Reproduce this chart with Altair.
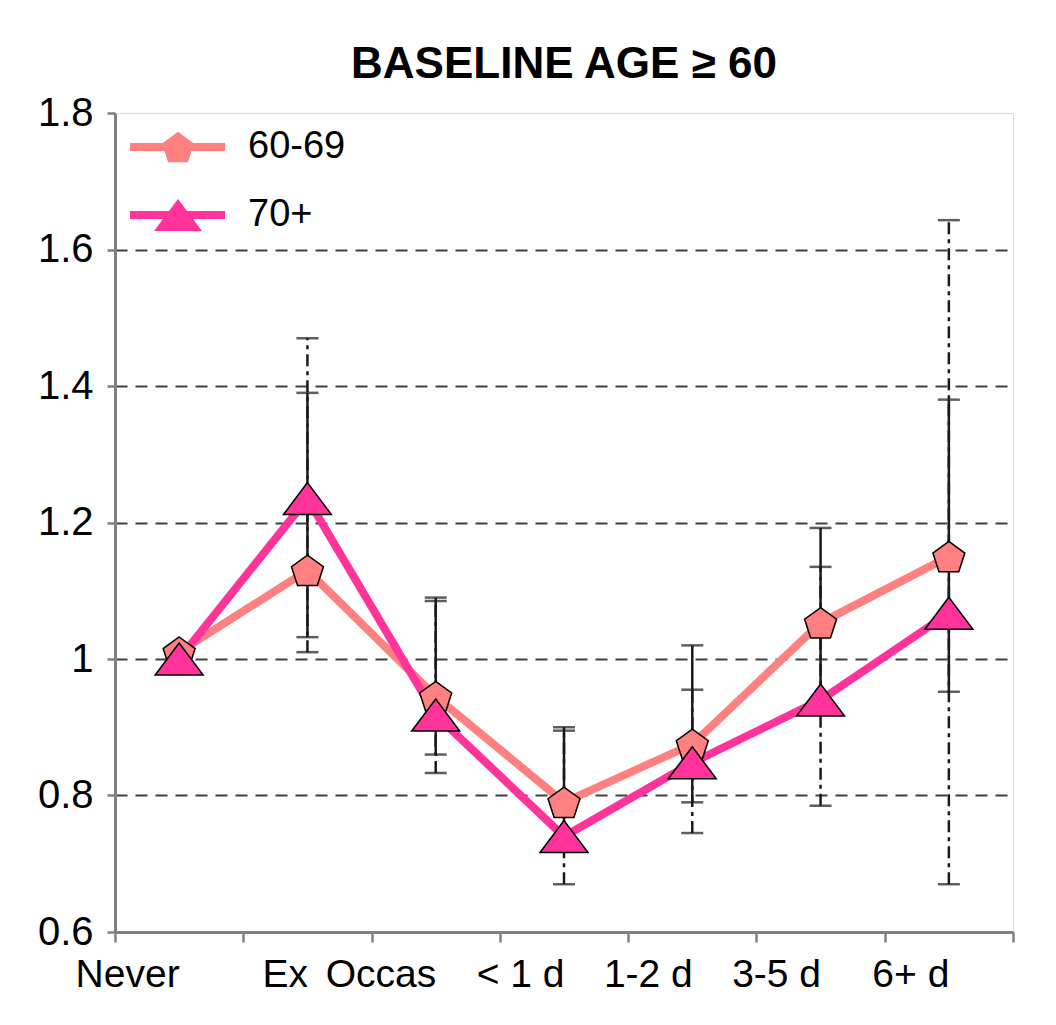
import altair as alt
import pandas as pd

categories = ["Never", "Ex", "Occas", "< 1 d", "1-2 d", "3-5 d", "6+ d"]
series = ["60-69", "70+"]
values_6069 = [1.01, 1.13, 0.945, 0.79, 0.875, 1.053, 1.15]
values_70 = [1.00, 1.235, 0.918, 0.74, 0.848, 0.94, 1.067]
lo_6069 = [None, 1.032, 0.86, 0.72, 0.79, 0.93, 0.952]
hi_6069 = [None, 1.39, 1.09, 0.90, 1.02, 1.192, 1.38]
lo_70 = [None, 1.01, 0.833, 0.67, 0.745, 0.785, 0.67]
hi_70 = [None, 1.47, 1.085, 0.895, 0.955, 1.135, 1.643]
y_ticks = [0.6, 0.8, 1.0, 1.2, 1.4, 1.6, 1.8]

rows = []
for s, vals, los, his in [("60-69", values_6069, lo_6069, hi_6069),
                          ("70+", values_70, lo_70, hi_70)]:
    for c, v, lo, hi in zip(categories, vals, los, his):
        rows.append({"cat": c, "series": s, "grp": s, "value": v, "lo": lo, "hi": hi})
df = pd.DataFrame(rows)
ci = df.dropna(subset=["lo"])

FONT = "Liberation Sans, Arial, sans-serif"
colors = ["#FF8080", "#FF3399"]
pentagon = "M0,-0.633L0.666,-0.149L0.412,0.633L-0.412,0.633L-0.666,-0.149Z"
triangle = "M0,-0.667L1,0.667L-1,0.667Z"

x_enc = alt.X("cat:N", sort=categories, title=None,
              scale=alt.Scale(type="band", paddingInner=0, paddingOuter=0),
              axis=alt.Axis(labelAngle=0, tickBand="extent", tickSize=10,
                            tickColor="#808080", tickWidth=2.5,
                            domainColor="#808080", domainWidth=3,
                            labelFontSize=39, labelFont=FONT, labelColor="black",
                            labelPadding=32, grid=False))
y_scale = alt.Scale(domain=[0.6, 1.8], nice=False, zero=False)
y_enc = alt.Y("value:Q", scale=y_scale, title=None,
              axis=alt.Axis(values=y_ticks, format="~g", tickSize=8,
                            tickColor="#808080", tickWidth=2.5,
                            domainColor="#808080", domainWidth=3,
                            labelFontSize=40, labelFont=FONT, labelColor="black",
                            labelPadding=14, grid=True, gridDash=[12, 8],
                            gridColor="#404040", gridWidth=2,
                            gridOpacity={"condition": {"test": "datum.value < 0.7 || datum.value > 1.7", "value": 0}, "value": 1}))

base = alt.Chart(df)

rule_solid = alt.Chart(ci[ci.series == "60-69"]).mark_rule(color="#1a1a1a", strokeWidth=2.5).encode(
    x=alt.X("cat:N", sort=categories), y=alt.Y("lo:Q", scale=y_scale), y2="hi:Q")
rule_dash = alt.Chart(ci[ci.series == "70+"]).mark_rule(color="#1a1a1a", strokeWidth=2.5,
                                                         strokeDash=[12, 5, 4, 5]).encode(
    x=alt.X("cat:N", sort=categories), y=alt.Y("lo:Q", scale=y_scale), y2="hi:Q")
cap_lo = alt.Chart(ci).mark_tick(orient="horizontal", color="#1a1a1a", thickness=2.5, size=22).encode(
    x=alt.X("cat:N", sort=categories), y=alt.Y("lo:Q", scale=y_scale))
cap_hi = alt.Chart(ci).mark_tick(orient="horizontal", color="#1a1a1a", thickness=2.5, size=22).encode(
    x=alt.X("cat:N", sort=categories), y=alt.Y("hi:Q", scale=y_scale))

lines = base.mark_line(strokeWidth=8).encode(
    x=x_enc, y=y_enc,
    color=alt.Color("series:N", scale=alt.Scale(domain=series, range=colors),
                    legend=alt.Legend(orient="none", legendX=11, legendY=4,
                                      symbolType="stroke", symbolSize=9025,
                                      symbolStrokeWidth=8, title=None,
                                      labelFontSize=38, labelFont=FONT,
                                      labelExpr="''", rowPadding=8,
                                      clipHeight=60, padding=0)))

marker_legend = alt.Legend(orient="none", legendX=38, legendY=4,
                           title=None, labelFontSize=38, labelFont=FONT,
                           labelColor="black", labelOffset=45,
                           symbolStrokeColor="black", symbolStrokeWidth=1.5,
                           symbolSize=2304, rowPadding=8, clipHeight=60, padding=0)
points = base.mark_point(filled=True, size=2304, opacity=1).encode(
    x=alt.X("cat:N", sort=categories), y=alt.Y("value:Q", scale=y_scale),
    fill=alt.Fill("grp:N", scale=alt.Scale(range=colors), legend=marker_legend),
    shape=alt.Shape("grp:N", scale=alt.Scale(range=[pentagon, triangle]), legend=marker_legend),
    stroke=alt.value("black"), strokeWidth=alt.value(1.5),
    order=alt.Order("grp:N"))

chart = alt.layer(rule_solid, rule_dash, cap_lo, cap_hi, lines, points).properties(
    width=898, height=819,
    title=alt.TitleParams("BASELINE AGE ≥ 60", fontSize=44, font=FONT, fontWeight="bold",
                          color="black", anchor="middle", offset=6),
    autosize=alt.AutoSizeParams(type="none"),
    padding={"left": 107, "top": 105, "right": 35, "bottom": 85},
).configure_view(stroke="#808080", strokeWidth=3).configure(background="white")

chart.save("out.html", embed_options={"renderer": "svg", "actions": False})
